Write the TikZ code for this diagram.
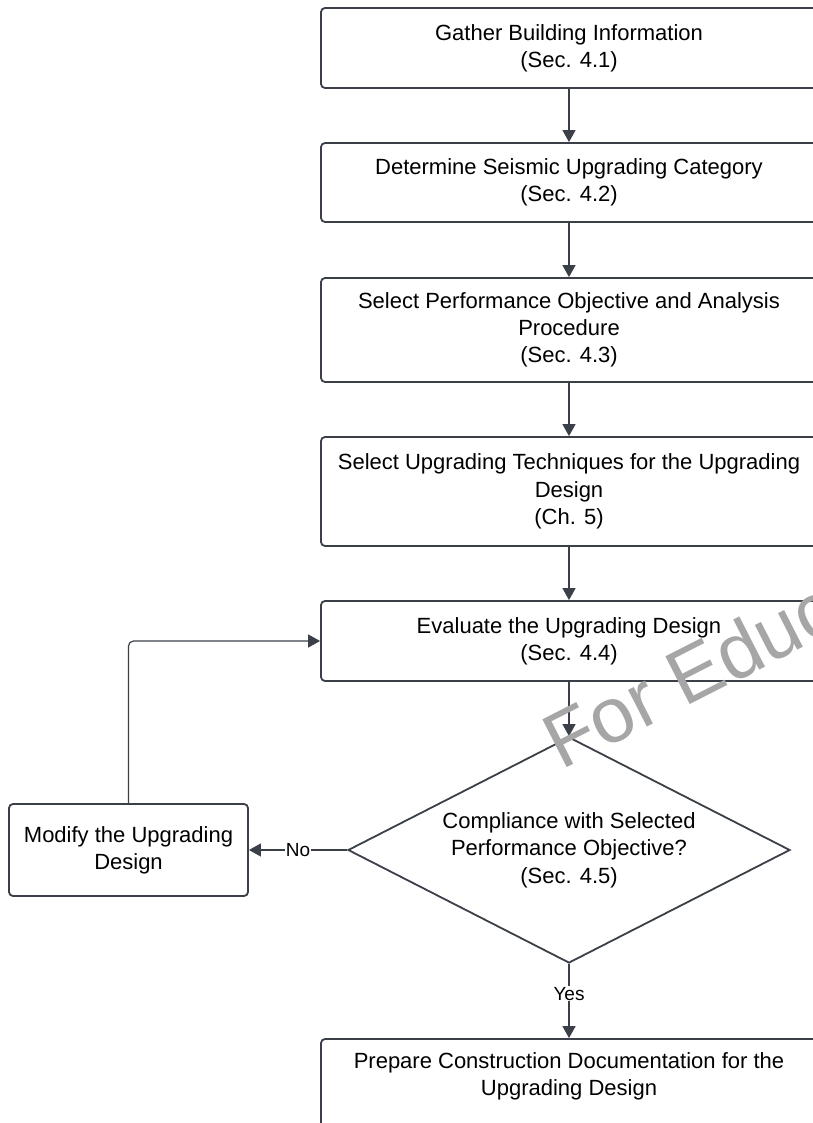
\documentclass[tikz,border=0pt]{standalone}
\usepackage{fontspec}
\setmainfont{Liberation Sans}
\usetikzlibrary{arrows.meta,shapes.geometric}
\definecolor{edge}{HTML}{3A3F48}
\definecolor{wm}{HTML}{A6A6A6}
\tikzset{
  box/.style={draw=edge, line width=1.8pt, rounded corners=4pt, fill=white, align=center,
    font=\fontsize{22}{27.3}\selectfont, inner sep=0pt},
  conn/.style={draw=edge, line width=1.2pt, -{Triangle[length=12pt,width=13pt]}},
  lbl/.style={fill=white, inner sep=1pt, font=\fontsize{19}{22}\selectfont},
}
\begin{document}
\begin{tikzpicture}[x=1pt,y=-1pt]
\useasboundingbox (0,0) rectangle (812,1123);
\node[box, minimum width=496pt, minimum height=80pt] (b1) at (569,48) {Gather Building Information\\(Sec. 4.1)};
\node[box, minimum width=496pt, minimum height=79pt] (b2) at (569,182.5) {Determine Seismic Upgrading Category\\(Sec. 4.2)};
\node[box, minimum width=496pt, minimum height=104pt] (b3) at (569,330) {Select Performance Objective and Analysis\\Procedure\\(Sec. 4.3)};
\node[box, minimum width=496pt, minimum height=109pt] (b4) at (569,491.5) {Select Upgrading Techniques for the Upgrading\\Design\\(Ch. 5)};
\node[box, minimum width=496pt, minimum height=80pt] (b5) at (569,641) {Evaluate the Upgrading Design\\(Sec. 4.4)};
\node[box, rounded corners=0pt, shape=diamond, aspect=1.956, minimum width=442pt, minimum height=226pt] (d) at (569,850) {Compliance with Selected\\Performance Objective?\\(Sec. 4.5)};
\node[box, minimum width=239pt, minimum height=92pt] (m) at (128.5,850) {Modify the Upgrading\\Design};
\node[box, minimum width=496pt, minimum height=110pt, text depth=40pt] (b6) at (569,1094) {Prepare Construction Documentation for the\\Upgrading Design};
\draw[conn] (b1.south) -- (b2.north);
\draw[conn] (b2.south) -- (b3.north);
\draw[conn] (b3.south) -- (b4.north);
\draw[conn] (b4.south) -- (b5.north);
\draw[conn] (b5.south) -- (d.north);
\draw[conn] (d.west) -- node[lbl] (no) {No} (m.east);
\draw[conn] (d.south) -- node[lbl, pos=0.4] (yes) {Yes} (b6.north);
\draw[conn, rounded corners=5pt] (m.north) |- (b5.west);
\node[text=wm, font=\fontsize{78}{78}\selectfont, rotate=27, anchor=base west, inner sep=0pt] (wmk) at (561,771) {For Educ};
\end{tikzpicture}
\end{document}
